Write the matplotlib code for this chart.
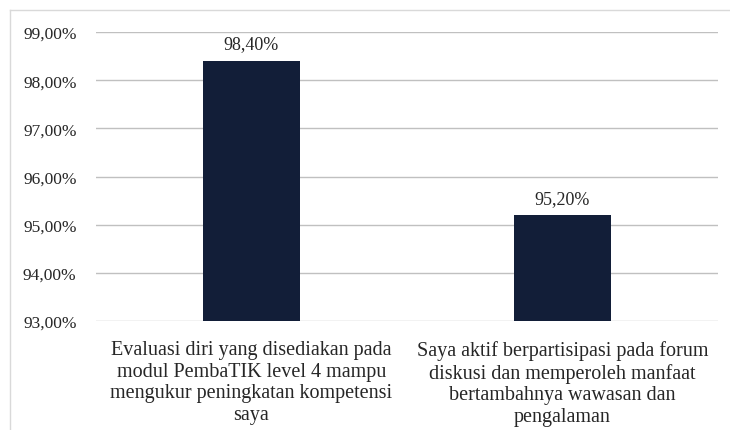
import matplotlib.pyplot as plt
from matplotlib.lines import Line2D

# data
categories = [
    "Evaluasi diri yang disediakan pada\nmodul PembaTIK level 4 mampu\nmengukur peningkatan kompetensi\nsaya",
    "Saya aktif berpartisipasi pada forum\ndiskusi dan memperoleh manfaat\nbertambahnya wawasan dan\npengalaman",
]
values = [98.40, 95.20]
y_ticks = [93, 94, 95, 96, 97, 98, 99]

bar_color = "#121e38"
grid_color = "#c0c0c0"
text_color = "#262626"

plt.rcParams['font.family'] = ['Liberation Serif', 'DejaVu Serif']

fig = plt.figure(figsize=(7.3, 4.31), dpi=100)
ax = fig.add_axes([0.1315, 0.2529, 0.852, 0.6705])

x = list(range(len(categories)))
ax.bar(x, values, width=0.31, color=bar_color, zorder=3)

for xi, v in zip(x, values):
    label = f"{v:.2f}%".replace(".", ",")
    ax.annotate(label, (xi, v), xytext=(0, 6), textcoords="offset points",
                ha="center", va="bottom", fontsize=13, color=text_color)

ax.set_xlim(-0.5, 1.5)
ax.set_ylim(93, 99)
ax.set_yticks(y_ticks)
ax.set_yticklabels([f"{t:.2f}%".replace(".", ",") for t in y_ticks])
ax.set_xticks(x)
ax.set_xticklabels(categories, fontsize=14.5, color=text_color, linespacing=1.17)

ax.tick_params(axis="y", length=0, pad=14, labelsize=12.5, labelcolor=text_color)
ax.tick_params(axis="x", length=0, pad=14)

ax.grid(axis="y", color=grid_color, linewidth=1.0, zorder=0)
for s in ax.spines.values():
    s.set_visible(False)

# outer chart frame (only left and top visible in the crop)
fig.add_artist(Line2D([10 / 730, 10 / 730], [0, 1 - 11 / 431],
                      transform=fig.transFigure, color="#d9d9d9", linewidth=1.0))
fig.add_artist(Line2D([10 / 730, 1], [1 - 11 / 431, 1 - 11 / 431],
                      transform=fig.transFigure, color="#d9d9d9", linewidth=1.0))

fig.savefig("out.png", dpi=100)
